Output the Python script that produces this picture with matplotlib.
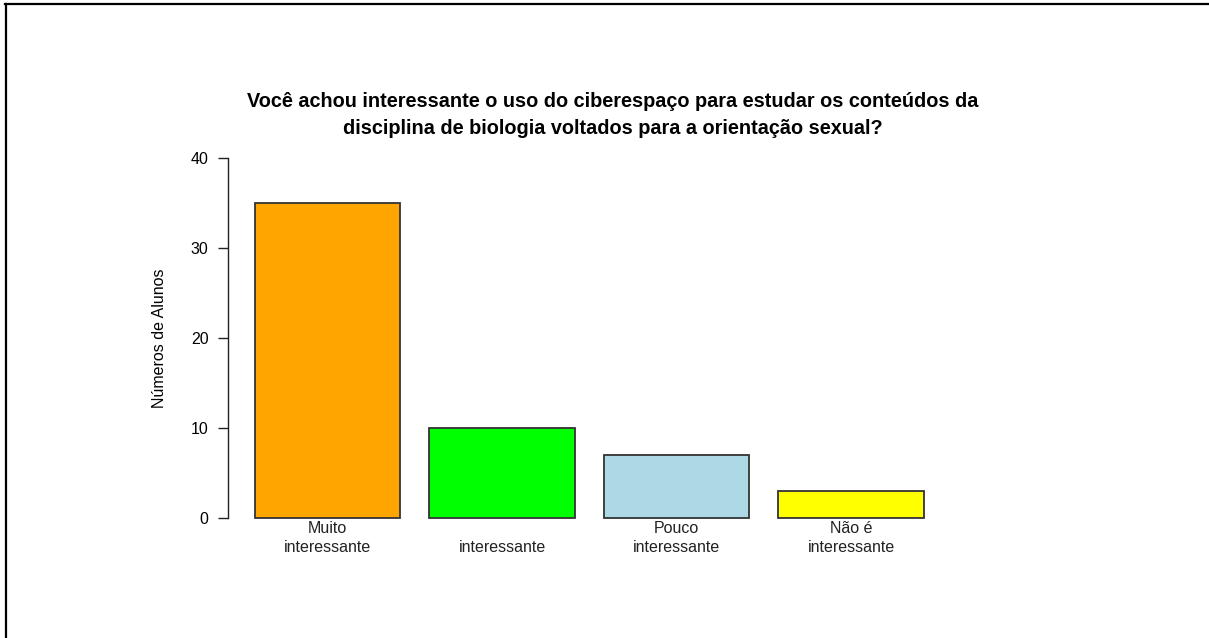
import numpy as np
import matplotlib
matplotlib.use('Agg')
import matplotlib.pyplot as plt
from matplotlib.lines import Line2D

plt.rcParams['font.family'] = ['Liberation Sans', 'DejaVu Sans']

categorias = ['Muito\ninteressante', '\ninteressante', 'Pouco\ninteressante', 'Não é\ninteressante']
alunos = [35, 10, 7, 3]
cores = ['#FFA500', '#00FF00', '#ADD8E6', '#FFFF00']
titulo = ('Você achou interessante o uso do ciberespaço para estudar os conteúdos da\n'
          'disciplina de biologia voltados para a orientação sexual?')

W, H = 1209, 638
fig = plt.figure(figsize=(W / 100, H / 100), dpi=100)

# plot region placed like the R barplot (pixels)
left, right, top, bottom = 228.2, 950.6, 143.6, 532.4
ax = fig.add_axes([left / W, 1 - bottom / H, (right - left) / W, (bottom - top) / H])

# R style bar positions: width 1, space 0.2
pos = 0.2 + 1.2 * np.arange(len(alunos)) + 0.5
ax.bar(pos, alunos, width=1.0, color=cores, edgecolor='#333333', linewidth=1.3)

ax.set_xlim(0.016, 4.984)
ax.set_ylim(-1.6, 41.6)

for s in ['top', 'right', 'bottom']:
    ax.spines[s].set_visible(False)
ax.spines['left'].set_bounds(0, 40)
ax.spines['left'].set_color('#222222')
ax.spines['left'].set_linewidth(1.0)
ax.set_yticks([0, 10, 20, 30, 40])
ax.tick_params(axis='y', length=7.2, width=1.0, color='#222222', labelsize=11.5, pad=7)
ax.set_xticks([])

for p, lab in zip(pos, categorias):
    ax.annotate(lab, xy=(p, 0), xytext=(0, -2), textcoords='offset points',
                ha='center', va='top', fontsize=11.5, color='#222222', linespacing=1.32)

ax.set_ylabel('Números de Alunos', fontsize=11.5, labelpad=17)

fig.text(613 / W, 1 - 115 / H, titulo, ha='center', va='center', fontsize=14.3,
         fontweight='bold', linespacing=1.55)

# border visible on top and left
fig.add_artist(Line2D([5 / W, 1], [1 - 4 / H, 1 - 4 / H], color='black', lw=1.6))
fig.add_artist(Line2D([6 / W, 6 / W], [1 - 4 / H, 0], color='black', lw=1.6))

fig.savefig('out.png', dpi=100)
